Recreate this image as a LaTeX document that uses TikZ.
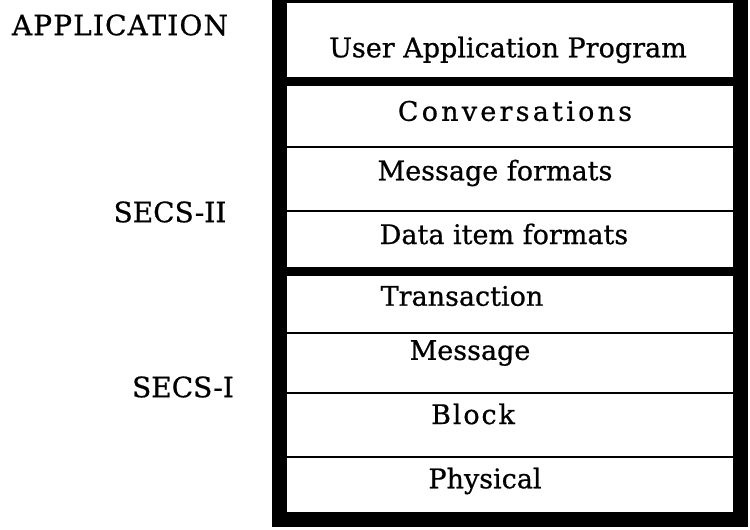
\documentclass[tikz,border=0pt]{standalone}
\usepackage{fontspec}
\setmainfont{DejaVu Serif}
\begin{document}
\begin{tikzpicture}[x=1pt,y=-1pt,
  frame/.style={fill=black},
  thin/.style={line width=2.2pt},
  thick/.style={line width=9pt},
  rowtext/.style={inner sep=0pt, font=\fontsize{27}{30}\selectfont\addfontfeature{FakeBold=0.7}},
  sidetext/.style={inner sep=0pt, font=\fontsize{28}{31}\selectfont\addfontfeature{FakeBold=0.7}}]
\useasboundingbox (0,0) rectangle (750,530);
\fill[white] (0,0) rectangle (750,530);
% outer frame
\fill[frame] (272,0) rectangle (287,527);
\fill[frame] (733,0) rectangle (748,527);
\fill[frame] (272,512) rectangle (748,527);
\fill[frame] (272,0) rectangle (748,3);
% dividers
\coordinate (l1) at (287,81.5);  \coordinate (r1) at (733,81.5);
\coordinate (l2) at (287,147);   \coordinate (r2) at (733,147);
\coordinate (l3) at (287,211);   \coordinate (r3) at (733,211);
\coordinate (l4) at (287,271.5); \coordinate (r4) at (733,271.5);
\coordinate (l5) at (287,333);   \coordinate (r5) at (733,333);
\coordinate (l6) at (287,393);   \coordinate (r6) at (733,393);
\coordinate (l7) at (287,457);   \coordinate (r7) at (733,457);
\draw[thick] (l1) -- (r1);
\draw[thin] (l2) -- (r2);
\draw[thin] (l3) -- (r3);
\draw[thick] (l4) -- (r4);
\draw[thin] (l5) -- (r5);
\draw[thin] (l6) -- (r6);
\draw[thin] (l7) -- (r7);
% row texts
\node[rowtext] (uap) at (508,50) {User Application Program};
\node[rowtext] (conv) at (515,111) {\addfontfeature{LetterSpace=12}Conversations};
\node[rowtext] (msgf) at (495,173) {Message formats};
\node[rowtext] (dataf) at (504,234) {Data item formats};
\node[rowtext] (trans) at (462,296) {Transaction};
\node[rowtext] (msg) at (470,353) {Message};
\node[rowtext] (blk) at (473,414) {\addfontfeature{LetterSpace=7}Block};
\node[rowtext] (phys) at (485,481) {Physical};
% side labels
\node[sidetext] (app) at (120,25) {\addfontfeature{LetterSpace=4}APPLICATION};
\node[sidetext] (s2) at (170,212) {SECS-II};
\node[sidetext] (s1) at (183,387) {SECS-I};
\end{tikzpicture}
\end{document}
